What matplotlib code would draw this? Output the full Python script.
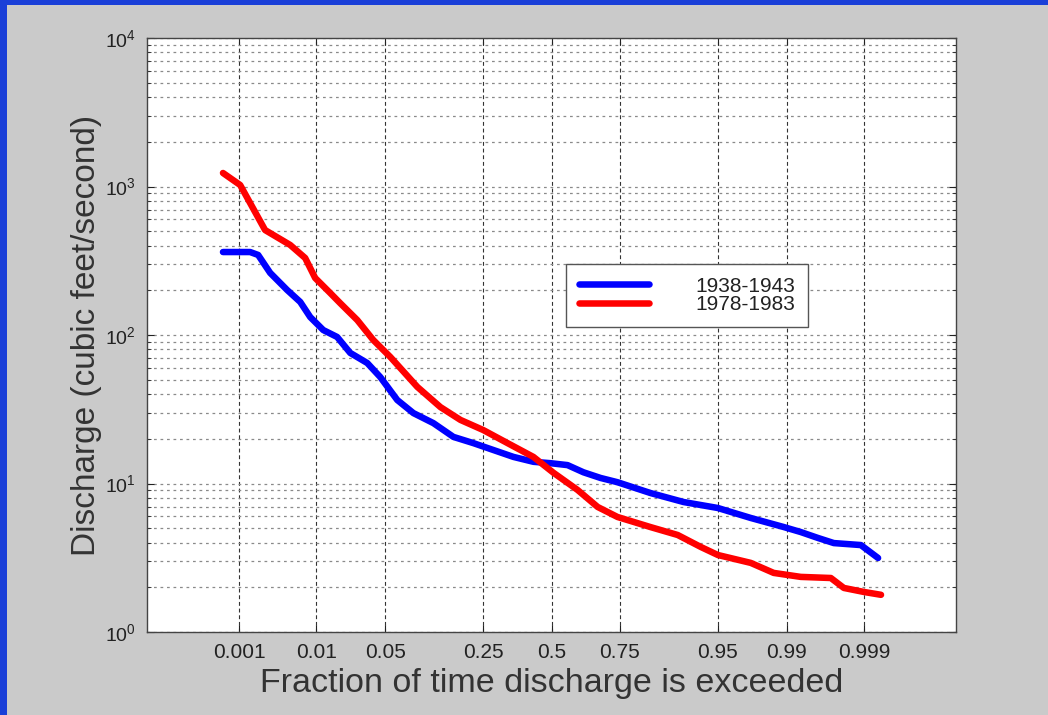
import numpy as np
import matplotlib
matplotlib.use("Agg")
import matplotlib.pyplot as plt
from matplotlib.patches import Rectangle
from matplotlib.ticker import FixedLocator, FixedFormatter, LogLocator, NullFormatter
from math import erf, sqrt

plt.rcParams['font.family'] = ['Liberation Sans', 'DejaVu Sans']
plt.rcParams['mathtext.fontset'] = 'custom'
plt.rcParams['mathtext.rm'] = 'Liberation Sans'
plt.rcParams['mathtext.it'] = 'Liberation Sans'

# ---------------- data ----------------
tick_fracs = [0.001, 0.01, 0.05, 0.25, 0.5, 0.75, 0.95, 0.99, 0.999]
tick_labels = ['0.001', '0.01', '0.05', '0.25', '0.5', '0.75', '0.95', '0.99', '0.999']

frac_1938 = [0.00058, 0.00144, 0.00186, 0.0027, 0.00447, 0.00648, 0.00852, 0.0120,
             0.0170, 0.0233, 0.0342, 0.0452, 0.0636, 0.086, 0.1214, 0.166, 0.220,
             0.283, 0.3535, 0.429, 0.496, 0.563, 0.624, 0.686, 0.743, 0.836, 0.9044,
             0.950, 0.9756, 0.9892, 0.99315, 0.99578, 0.99738, 0.99889, 0.99938]
q_1938 = [362, 362, 346, 262, 201, 167, 132, 108, 97, 75.7, 64.8, 52.1, 36.5, 29.8,
          25.5, 20.6, 18.7, 16.8, 15.1, 14.0, 13.7, 13.3, 11.9, 10.9, 10.2, 8.63,
          7.50, 6.84, 5.86, 5.09, 4.71, 4.30, 3.97, 3.85, 3.15]

frac_1978 = [0.00058, 0.00104, 0.00231, 0.00488, 0.00743, 0.00972, 0.0143, 0.0183,
             0.0274, 0.039, 0.0555, 0.0923, 0.136, 0.184, 0.250, 0.332, 0.429, 0.508,
             0.602, 0.676, 0.743, 0.836, 0.894, 0.930, 0.950, 0.9756, 0.9860, 0.99315,
             0.99713, 0.99808, 0.99900, 0.99944]
q_1978 = [1233, 1023, 509, 404, 330, 242, 192, 164, 126, 92.5, 71.1, 44.7, 32.7, 26.8,
          22.9, 18.7, 15.1, 11.8, 9.04, 6.95, 5.95, 5.09, 4.50, 3.74, 3.30, 2.92, 2.50,
          2.35, 2.31, 1.98, 1.86, 1.78]

series_labels = ['1938-1943', '1978-1983']


# ---------------- normal probability scale ----------------
def _ppf(p):
    p = np.clip(np.asarray(p, dtype=float), 1e-12, 1 - 1e-12)
    a = [-3.969683028665376e+01, 2.209460984245205e+02, -2.759285104469687e+02,
         1.383577518672690e+02, -3.066479806614716e+01, 2.506628277459239e+00]
    b = [-5.447609879822406e+01, 1.615858368580409e+02, -1.556989798598866e+02,
         6.680131188771972e+01, -1.328068155288572e+01]
    c = [-7.784894002430293e-03, -3.223964580411365e-01, -2.400758277161838e+00,
         -2.549732539343734e+00, 4.374664141464968e+00, 2.938163982698783e+00]
    d = [7.784695709041462e-03, 3.224671290700398e-01, 2.445134137142996e+00,
         3.754408661907416e+00]
    plow, phigh = 0.02425, 1 - 0.02425
    x = np.empty_like(p)
    lo = p < plow
    hi = p > phigh
    mid = ~(lo | hi)
    q = np.sqrt(-2 * np.log(p[lo]))
    x[lo] = (((((c[0]*q+c[1])*q+c[2])*q+c[3])*q+c[4])*q+c[5]) / \
            ((((d[0]*q+d[1])*q+d[2])*q+d[3])*q+1)
    q = np.sqrt(-2 * np.log(1 - p[hi]))
    x[hi] = -(((((c[0]*q+c[1])*q+c[2])*q+c[3])*q+c[4])*q+c[5]) / \
             ((((d[0]*q+d[1])*q+d[2])*q+d[3])*q+1)
    q = p[mid] - 0.5
    r = q * q
    x[mid] = (((((a[0]*r+a[1])*r+a[2])*r+a[3])*r+a[4])*r+a[5])*q / \
             (((((b[0]*r+b[1])*r+b[2])*r+b[3])*r+b[4])*r+1)
    return x


_verf = np.vectorize(erf, otypes=[float])


def _cdf(z):
    z = np.asarray(z, dtype=float)
    return 0.5 * (1 + _verf(z / sqrt(2)))


# ---------------- figure ----------------
W, H = 1048, 715
fig = plt.figure(figsize=(W / 100, H / 100), dpi=100)
fig.patch.set_facecolor('#1a3fd8')
bg = Rectangle((7 / W, 0), 1 - 7 / W, 1 - 5 / H, transform=fig.transFigure,
               facecolor='#cacaca', edgecolor='none', zorder=-10)
fig.add_artist(bg)

ax = fig.add_axes([147 / W, 1 - 632 / H, (956 - 147) / W, (632 - 38) / H])
ax.set_zorder(1)
ax.set_facecolor('white')
ax.set_xscale('function', functions=(_ppf, _cdf))
ax.set_yscale('log')
ax.set_xlim(float(_cdf(-4.0)), float(_cdf(4.0)))
ax.set_ylim(1, 1e4)

ax.plot(frac_1938, q_1938, color='#0000ff', lw=4.7, solid_capstyle='round',
        solid_joinstyle='round', label=series_labels[0], zorder=3)
ax.plot(frac_1978, q_1978, color='#ff0000', lw=4.7, solid_capstyle='round',
        solid_joinstyle='round', label=series_labels[1], zorder=3)

ax.xaxis.set_major_locator(FixedLocator(tick_fracs))
ax.xaxis.set_major_formatter(FixedFormatter(tick_labels))
ax.xaxis.set_minor_locator(FixedLocator([]))
ax.yaxis.set_major_locator(LogLocator(base=10, numticks=10))
ax.yaxis.set_minor_locator(LogLocator(base=10, subs=np.arange(2, 10), numticks=20))
ax.yaxis.set_minor_formatter(NullFormatter())

ax.tick_params(axis='both', which='both', direction='in', top=True, right=True,
               colors='#222222', labelcolor='#222222')
ax.tick_params(axis='x', which='major', length=5, labelsize=15, pad=8)
ax.tick_params(axis='y', which='major', length=5, labelsize=14, pad=8)
ax.tick_params(axis='y', which='minor', length=3)

ax.grid(True, axis='x', which='major', color='#333333', lw=0.8, linestyle=(0, (3.5, 2.5)))
ax.grid(True, axis='y', which='both', color='#8a8a8a', lw=0.9, linestyle=(0, (2.2, 3.0)))

for s in ax.spines.values():
    s.set_color('#444444')
    s.set_linewidth(1.0)

ax.set_xlabel('Fraction of time discharge is exceeded', fontsize=24.5, color='#333333',
              labelpad=4)
ax.set_ylabel('Discharge (cubic feet/second)', fontsize=24, color='#333333', labelpad=2)

leg = ax.legend(loc='upper left', bbox_to_anchor=((566 - 147) / (956 - 147),
                                                  (632 - 264) / (632 - 38)),
                fontsize=15, frameon=True, fancybox=False, framealpha=1,
                edgecolor='#555555', handlelength=3.4, handletextpad=2.2,
                labelspacing=0.0, borderpad=0.6, borderaxespad=0)
leg.get_frame().set_linewidth(1.0)
for t in leg.get_texts():
    t.set_color('#222222')

fig.savefig('out.png', dpi=100, facecolor=fig.get_facecolor())
